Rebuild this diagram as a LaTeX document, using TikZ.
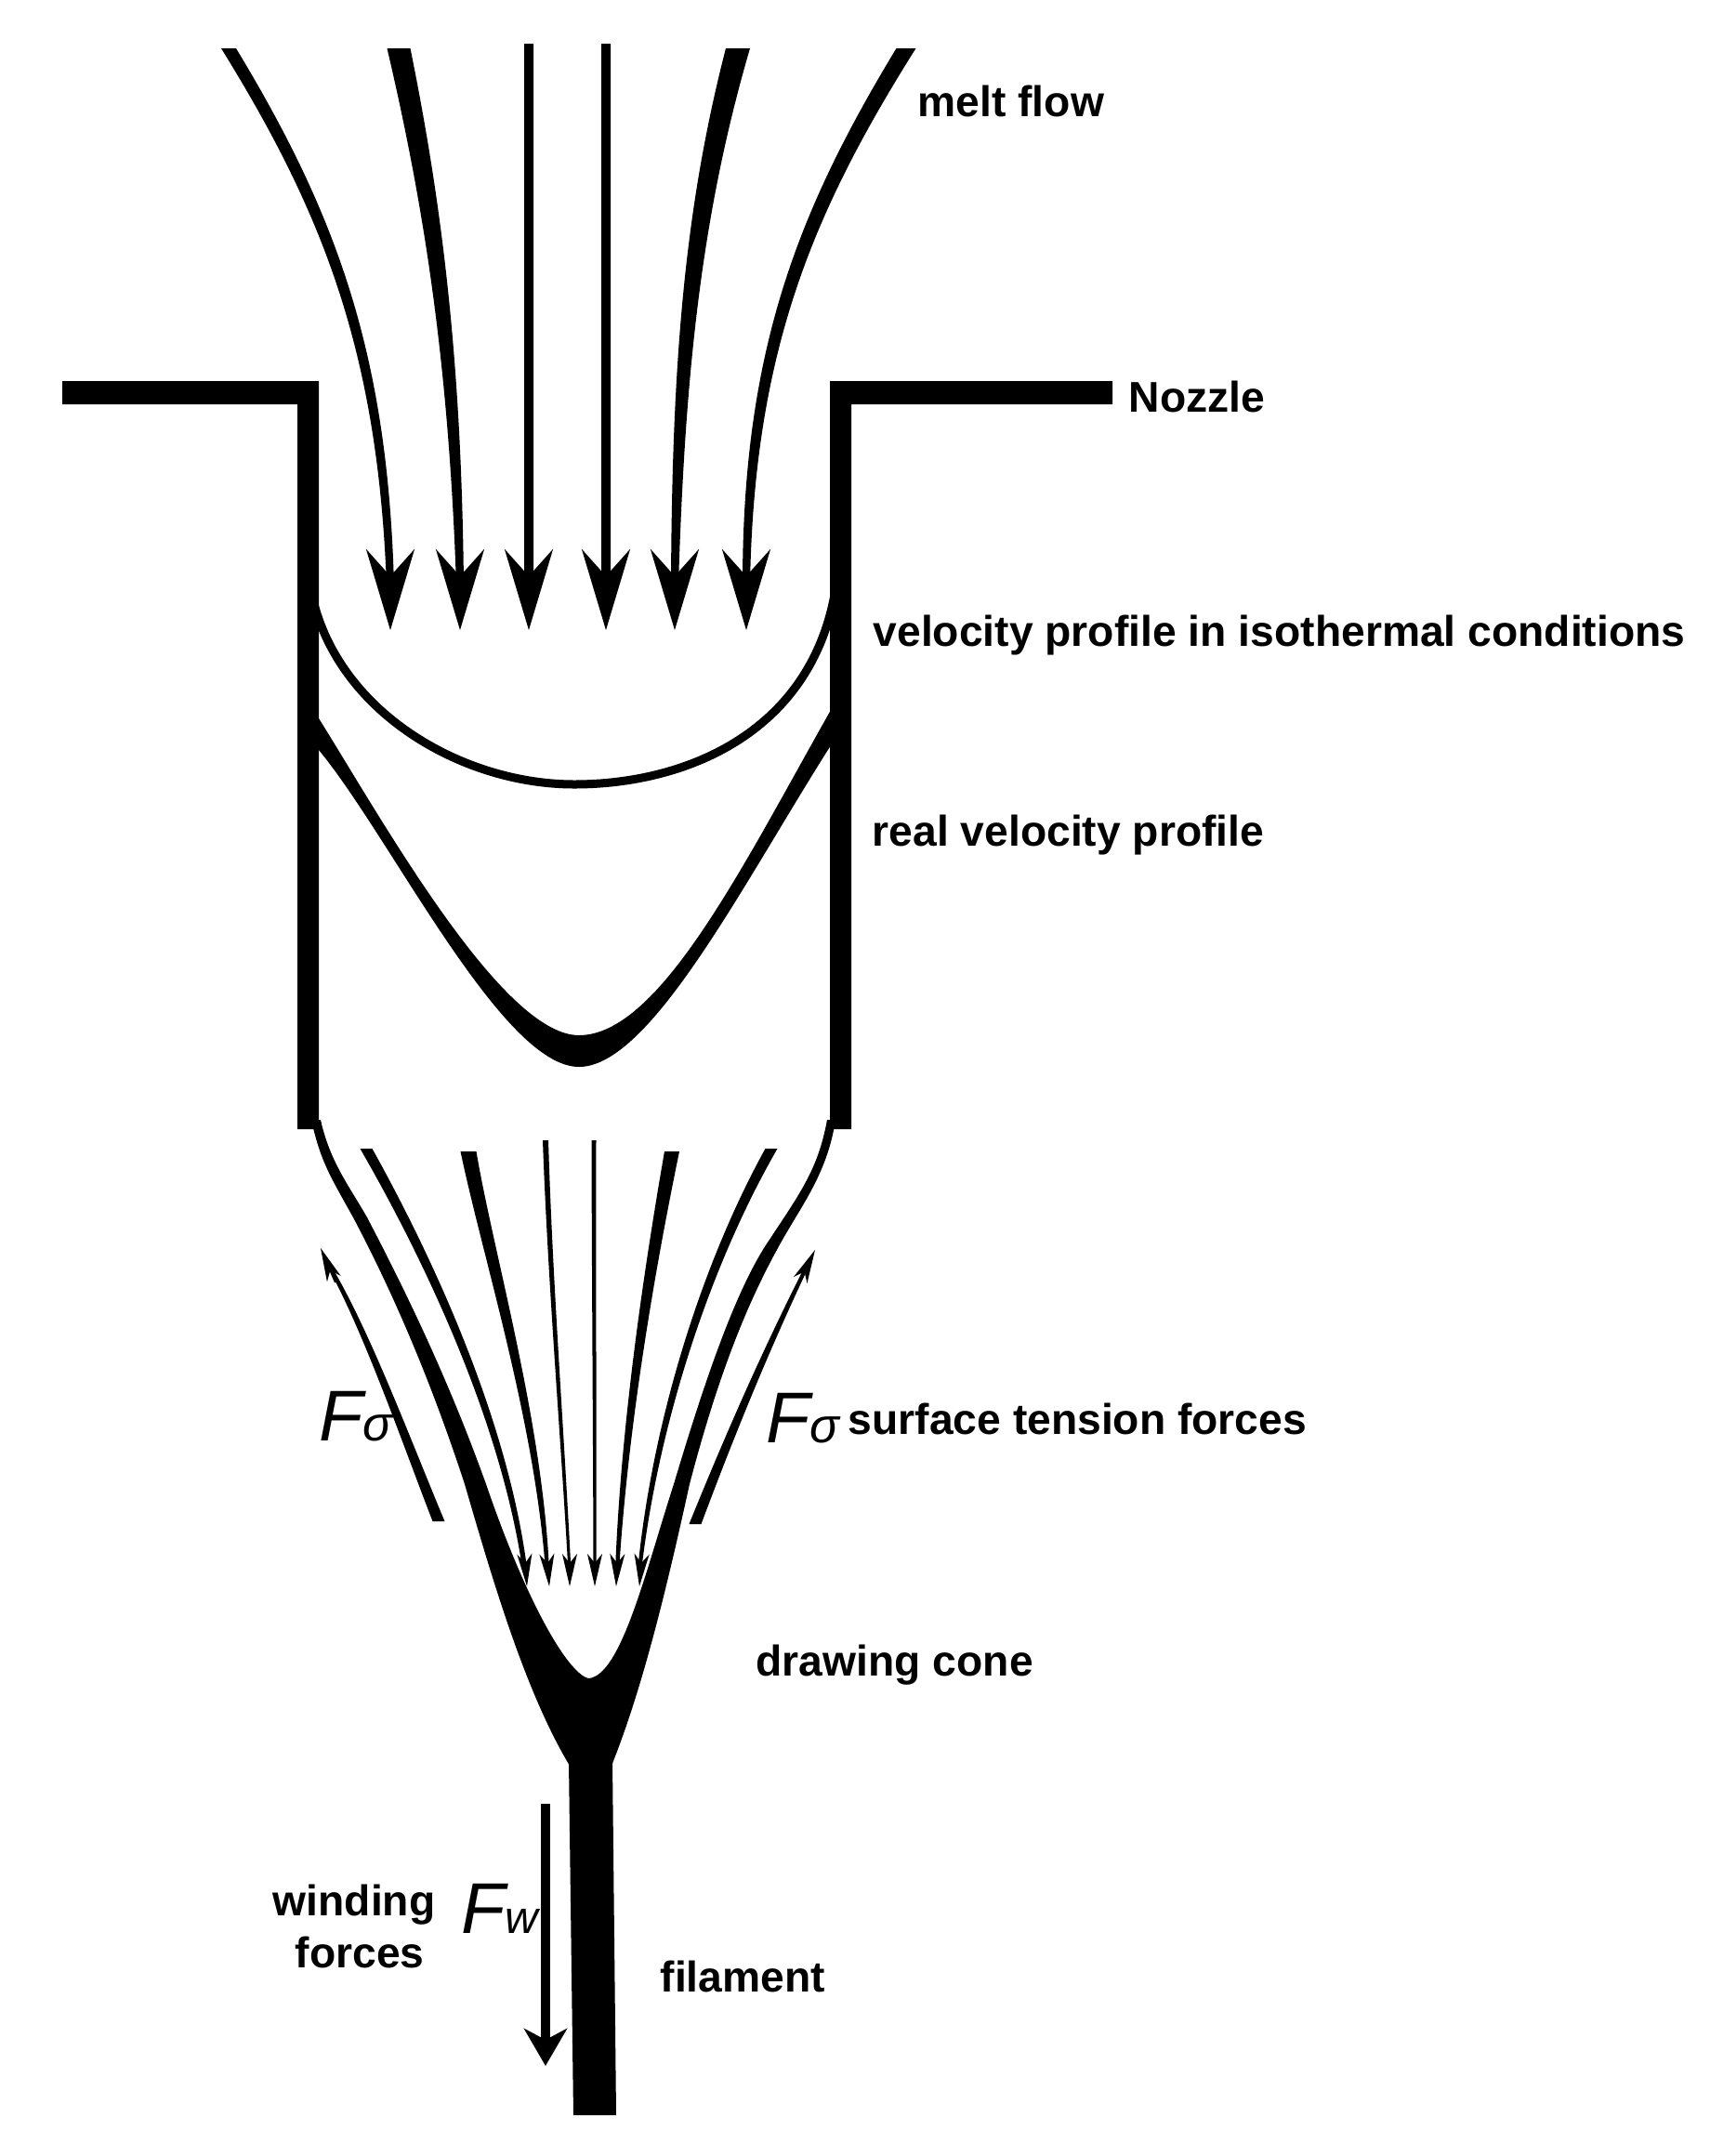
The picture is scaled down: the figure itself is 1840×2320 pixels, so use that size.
\documentclass[tikz,border=0pt]{standalone}
\usepackage{fontspec}
\setmainfont{Liberation Sans}
\usetikzlibrary{arrows.meta}
\tikzset{
  lbl/.style={font=\bfseries\fontsize{13.15}{16}\selectfont,anchor=base west,inner sep=0pt},
  force/.style={font=\itshape\fontsize{22}{24}\selectfont,anchor=base west,inner sep=0pt},
  bighead/.style={-{Stealth[length=.87cm,width=.52cm,inset=.29cm]},line width=.04cm},
  smallhead/.style={-{Stealth[length=.35cm,width=.16cm,inset=.10cm]},line width=.02cm},
  fshead/.style={-{Stealth[length=.36cm,width=.16cm,inset=.10cm]},line width=.02cm},
}
\begin{document}
\begin{tikzpicture}[x=.01cm,y=-.01cm]
    \useasboundingbox (0,0) rectangle (1840,2320);
    % Nozzle walls
    \fill (67,410) -- (343,410) -- (343,1215) -- (320,1215) -- (320,435) -- (67,435) -- cycle;
    \fill (1197,410) -- (893,410) -- (893,1215) -- (916,1215) -- (916,435) -- (1197,435) -- cycle;
    % Streamlines, thinning towards the tip
    \foreach \xa/\ya/\xb/\yb/\xc/\yc/\xd/\yd/\wa/\wb in {
      246/52/355/230/412/380/420/630/16/8,
      429/52/468/230/490/400/495/630/25/8,
      569/47/569/230/569/400/569/630/10/10,
      652/47/652/230/652/400/652/630/10/10,
      794/52/745/230/730/400/726/630/26/8,
      975/52/865/230/805/380/803/630/21/8,
      394/1236/470/1370/545/1540/565/1691/13/5,
      504/1239/525/1350/580/1530/589/1691/17/4,
      587/1227/592/1380/605/1540/613/1691/6/3,
      639/1227/639/1380/640/1540/640/1691/5/3,
      723/1239/700/1360/672/1530/664/1691/16/4,
      830/1236/760/1360/705/1530/688/1691/13/4,
      350/1355/392/1425/435/1545/472/1637/4/13,
      872/1355/825/1450/785/1545/748/1640/4/13} {
      \fill (\xa-\wa/2,\ya) .. controls (\xb-\wa/3-\wb/6,\yb) and (\xc-\wa/6-\wb/3,\yc) .. (\xd-\wb/2,\yd)
        -- (\xd+\wb/2,\yd) .. controls (\xc+\wa/6+\wb/3,\yc) and (\xb+\wa/3+\wb/6,\yb) .. (\xa+\wa/2,\ya) -- cycle;
    }
    % Arrow heads
    \foreach \x in {420,495,569,652,726,803} {
      \draw[bighead] (\x,625) -- (\x,678);
    }
    \foreach \x/\y in {565/567,589/591,613/613,640/640,664/663,690/688} {
      \draw[smallhead] (\x,1680) -- (\y,1707);
    }
    % Velocity profile in isothermal conditions
    \draw[line width=.09cm] (338,650) .. controls (370,770) and (500,844) .. (618,844) .. controls (736,844) and (870,790) .. (898,640);
    % Real velocity profile
    \fill (343,773) .. controls (410,880) and (540,1114) .. (623,1114) .. controls (710,1114) and (800,930) .. (894,764)
      -- (894,802) .. controls (800,950) and (700,1148) .. (623,1148) .. controls (540,1148) and (420,900) .. (343,807) -- cycle;
    % Drawing cone
    \fill (335,1205) .. controls (345,1250) and (355,1265) .. (380,1310)
      .. controls (425,1395) and (465,1490) .. (500,1597)
      .. controls (530,1700) and (565,1820) .. (613,1900)
      -- (658,1900) .. controls (690,1820) and (715,1720) .. (742,1597)
      .. controls (770,1490) and (800,1410) .. (837,1343)
      .. controls (860,1300) and (890,1265) .. (899,1205)
      -- (890,1205) .. controls (880,1260) and (860,1285) .. (822,1343)
      .. controls (790,1395) and (760,1480) .. (725,1597)
      .. controls (695,1690) and (668,1804) .. (633,1806)
      .. controls (610,1800) and (565,1720) .. (523,1597)
      .. controls (490,1505) and (450,1415) .. (395,1310)
      .. controls (375,1275) and (355,1250) .. (345,1205) -- cycle;
    % Filament
    \fill (612,1895) -- (659,1895) -- (663,2276) -- (617,2276) -- cycle;
    % Surface tension forces
    \coordinate (fsleft) at (361,1380);
    \coordinate (fslefttip) at (345,1343);
    \coordinate (fsright) at (860,1380);
    \coordinate (fsrighttip) at (877,1345);
    \draw[fshead] (fsleft) -- (fslefttip);
    \draw[fshead] (fsright) -- (fsrighttip);
    % Winding force
    \coordinate (fwtop) at (587,1941);
    \coordinate (fwtip) at (587,2223);
    \draw[line width=.1cm,-{Stealth[length=.40cm,width=.46cm,inset=.12cm]}] (fwtop) -- (fwtip);
    % Labels
    \node[lbl] (melt) at (987,125) {melt flow};
    \node[lbl] (nozzle) at (1214,443) {Nozzle};
    \node[lbl] (isoth) at (939,695) {velocity profile in isothermal conditions};
    \node[lbl] (real) at (938,910) {real velocity profile};
    \node[lbl] (tension) at (912,1543) {surface tension forces};
    \node[lbl] (cone) at (813,1803) {drawing cone};
    \node[lbl] (filament) at (710,2143) {filament};
    \node[lbl] (winding) at (293,2061) {winding};
    \node[lbl] (forces) at (317,2117) {forces};
    \node[force] (fsl) at (343,1550) {F\fontsize{15}{16}\selectfont σ};
    \node[force] (fsr) at (824,1552) {F\fontsize{15}{16}\selectfont σ};
    \node[force] (fw) at (496,2080) {F\fontsize{14}{16}\selectfont w};
  \end{tikzpicture}
\end{document}
